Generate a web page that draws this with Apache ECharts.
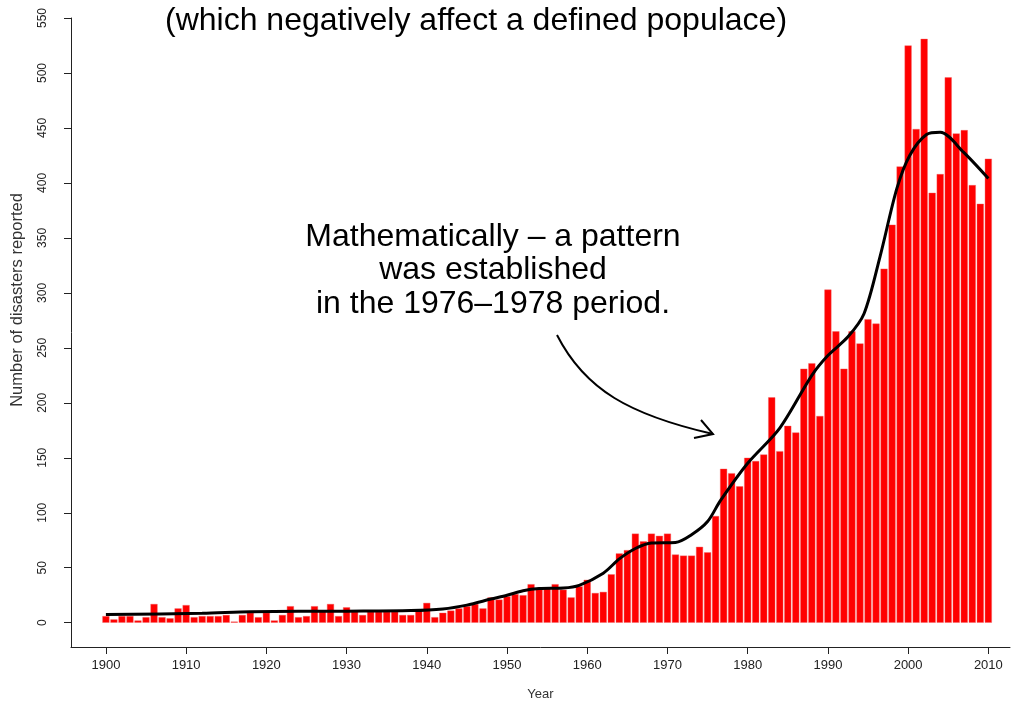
<!DOCTYPE html>
<html>
<head>
<meta charset="utf-8">
<script src="https://cdn.jsdelivr.net/npm/echarts@6/dist/echarts.min.js"></script>
<style>
html,body{margin:0;padding:0;background:#fff;}
#chart{width:1014px;height:704px;}
</style>
</head>
<body>
<div id="chart"></div>
<script>
const years = [];
for (let y = 1900; y <= 2010; y++) years.push(y);
const disasters = [
  6,3,6,6,2,5,17,5,4,13,
  16,5,6,6,6,7,1,7,9,5,
  9,2,7,15,5,6,15,11,17,6,
  14,10,7,10,10,10,10,7,7,11,
  18,5,9,11,13,15,17,13,23,21,
  24,26,25,35,31,32,35,30,23,33,
  39,27,28,44,63,66,81,74,81,79,
  81,62,61,61,69,64,97,140,136,124,
  150,147,153,205,156,179,173,231,236,188,
  303,265,231,265,254,276,272,322,362,415,
  525,449,531,391,408,496,445,448,398,381,
  422
];
const trendYears = [1900,1912,1918,1930,1938,1942,1945,1948,1950,1952,1954,1957,1959,1962,1964,1966,1968,1971,1973,1975,1976.6,1980,1984,1988,1990,1992.5,1994.5,1996.5,1998.6,2000.2,2002.3,2004,2006.9,2010];
const trendValues = [7.5,8.5,10,10.5,11,12.5,16,21.5,25,29,31,31.5,34,45,58,67.5,72.5,73,80,92,111,145,177,225,243,260,281,333,395,425,444,446,428,404];
const xTickLabels = [1900,1910,1920,1930,1940,1950,1960,1970,1980,1990,2000,2010];
const yTickLabels = [0,50,100,150,200,250,300,350,400,450,500,550];

const titleText = '(which negatively affect a defined populace)';
const noteLines = ['Mathematically \u2013 a pattern', 'was established', 'in the 1976\u20131978 period.'];

const chart = echarts.init(document.getElementById('chart'));
const font = '"Liberation Sans", Arial, sans-serif';
chart.setOption({
  animation: false,
  backgroundColor: '#fff',
  grid: {left: 71, right: 4, top: 18, bottom: 57, containLabel: false, outerBoundsMode: 'none'},
  xAxis: {
    type: 'value', min: 1895.65, max: 2012.7,
    name: 'Year', nameLocation: 'middle', nameGap: 41,
    nameTextStyle: {fontFamily: font, fontSize: 13, color: '#333'},
    axisLine: {show: true, onZero: false, lineStyle: {color: '#222', width: 1}},
    axisTick: {show: true, length: 7, customValues: xTickLabels, lineStyle: {color: '#222'}},
    axisLabel: {customValues: xTickLabels, formatter: v => String(v), fontFamily: font, fontSize: 13, color: '#222', margin: 12},
    splitLine: {show: false}
  },
  yAxis: {
    type: 'value', min: -22.1, max: 550,
    axisLine: {show: true, onZero: false, lineStyle: {color: '#222', width: 1}},
    axisTick: {show: true, length: 7, customValues: yTickLabels, lineStyle: {color: '#222'}},
    axisLabel: {customValues: yTickLabels, formatter: v => String(v), rotate: 90, fontFamily: font, fontSize: 12, color: '#222', margin: 22},
    splitLine: {show: false}
  },
  series: [
    {
      type: 'bar', barWidth: 7,
      data: years.map((y, i) => [y, disasters[i]]),
      itemStyle: {color: '#ff0000', borderColor: '#f06060', borderWidth: 0.4},
      z: 2
    },
    {
      type: 'line', smooth: 0.3, showSymbol: false,
      data: trendYears.map((y, i) => [y, trendValues[i]]),
      lineStyle: {color: '#000', width: 3},
      z: 3
    }
  ],
  graphic: [
    {type: 'text', left: 165, top: 5, style: {text: titleText, font: '32px ' + font, fill: '#000'}},
    {type: 'text', x: 17, y: 300, rotation: Math.PI / 2,
     style: {text: 'Number of disasters reported', font: '16.5px ' + font, fill: '#333', align: 'center', verticalAlign: 'middle'}},
    {type: 'text', x: 493, y: 237, style: {text: noteLines[0], font: '32px ' + font, fill: '#000', align: 'center', verticalAlign: 'middle'}},
    {type: 'text', x: 493, y: 270, style: {text: noteLines[1], font: '32px ' + font, fill: '#000', align: 'center', verticalAlign: 'middle'}},
    {type: 'text', x: 493, y: 304, style: {text: noteLines[2], font: '32px ' + font, fill: '#000', align: 'center', verticalAlign: 'middle'}},
    {type: 'bezierCurve', shape: {x1: 557, y1: 335, cpx1: 585, cpy1: 390, cpx2: 630, cpy2: 415, x2: 713, y2: 434},
     style: {stroke: '#000', lineWidth: 2, fill: null}},
    {type: 'polyline', shape: {points: [[701, 420], [713, 434], [694, 438]]},
     style: {stroke: '#000', lineWidth: 2, fill: null}}
  ]
});
</script>
</body>
</html>
